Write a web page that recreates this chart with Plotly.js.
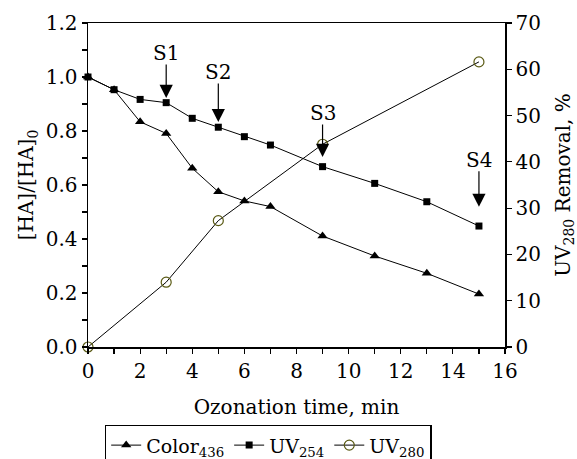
<!DOCTYPE html>
<html>
<head>
<meta charset="utf-8">
<script src="https://cdn.plot.ly/plotly-3.0.1.min.js"></script>
<style>html,body{margin:0;padding:0;background:#fff;}#chart{width:577px;height:459px;}</style>
</head>
<body>
<div id="chart"></div>
<script>
const timeColor = [0, 1, 2, 3, 4, 5, 6, 7, 9, 11, 13, 15];
const color436 = [1.0, 0.953, 0.834, 0.791, 0.662, 0.575, 0.541, 0.52, 0.411, 0.337, 0.273, 0.196];
const timeUV254 = [0, 1, 2, 3, 4, 5, 6, 7, 9, 11, 13, 15];
const uv254 = [1.0, 0.953, 0.917, 0.905, 0.847, 0.814, 0.779, 0.748, 0.668, 0.606, 0.538, 0.448];
const timeUV280 = [0, 3, 5, 9, 15];
const uv280 = [0, 14.0, 27.3, 43.8, 61.6];
const stageLabels = ['S1', 'S2', 'S3', 'S4'];
const stageX = [3, 5, 9, 15];
const stageTipY = [0.922, 0.833, 0.704, 0.519];
const stageTailPx = [-35, -40, -34, -37];
const stageTextY = [1.089, 1.019, 0.867, 0.693];

const FONT = 'DejaVu Serif';
const FS = 20;
const traces = [
  {x: timeColor, y: color436, name: 'Color<sub>436</sub>', mode: 'lines+markers', cliponaxis: false,
   line: {color: '#000', width: 1}, marker: {symbol: 'triangle-up', size: 9, color: '#000'}},
  {x: timeUV254, y: uv254, name: 'UV<sub>254</sub>', mode: 'lines+markers', cliponaxis: false,
   line: {color: '#000', width: 1}, marker: {symbol: 'square', size: 7, color: '#000'}},
  {x: timeUV280, y: uv280, name: 'UV<sub>280</sub>', mode: 'lines+markers', yaxis: 'y2', cliponaxis: false,
   line: {color: '#000', width: 1}, marker: {symbol: 'circle-open', size: 10, color: '#5a5a14', line: {width: 1.2}}}
];

const annotations = [];
stageLabels.forEach((s, i) => {
  annotations.push({x: stageX[i], y: stageTipY[i], xref: 'x', yref: 'y', text: '', showarrow: true,
    ax: 0, ay: stageTailPx[i], arrowhead: 2, arrowsize: 2.2, arrowwidth: 1.2, arrowcolor: '#000', standoff: 0});
  annotations.push({x: stageX[i], y: stageTextY[i], xref: 'x', yref: 'y', text: s, showarrow: false,
    font: {family: FONT, size: FS, color: '#000'}});
});

const layout = {
  width: 577, height: 459,
  margin: {l: 88, r: 72, t: 23, b: 112, autoexpand: false},
  paper_bgcolor: '#fff', plot_bgcolor: '#fff',
  font: {family: FONT, size: FS, color: '#000'},
  showlegend: true,
  legend: {orientation: 'h', x: 0.04, xanchor: 'left', y: -0.24, yanchor: 'top',
    bordercolor: '#000', borderwidth: 1.5, font: {family: FONT, size: 19}, bgcolor: '#fff',
    tracegroupgap: 0, itemwidth: 30},
  xaxis: {range: [0, 16], dtick: 2, tick0: 0, showgrid: false, zeroline: false,
    showline: true, linecolor: '#000', linewidth: 1.5, mirror: true,
    ticks: 'outside', ticklen: 5, tickwidth: 1.2, tickcolor: '#000',
    minor: {dtick: 1, ticks: 'outside', ticklen: 5, tickwidth: 1.2, tickcolor: '#000', showgrid: false},
    title: {text: 'Ozonation time, min', font: {family: FONT, size: FS}, standoff: 18}},
  yaxis: {range: [0, 1.2], dtick: 0.2, tick0: 0, tickformat: '.1f', showgrid: false, zeroline: false,
    showline: true, linecolor: '#000', linewidth: 1.5,
    ticks: 'outside', ticklen: 5, tickwidth: 1.2, tickcolor: '#000',
    minor: {dtick: 0.1, ticks: 'outside', ticklen: 5, tickwidth: 1.2, tickcolor: '#000', showgrid: false},
    title: {text: '[HA]/[HA]<sub>0</sub>', font: {family: FONT, size: FS}, standoff: 6}},
  yaxis2: {range: [0, 70], dtick: 10, tick0: 0, overlaying: 'y', side: 'right', showgrid: false, zeroline: false,
    showline: true, linecolor: '#000', linewidth: 1.5,
    ticks: 'outside', ticklen: 5, tickwidth: 1.2, tickcolor: '#000',
    title: {text: 'UV<sub>280</sub> Removal, %', font: {family: FONT, size: FS}, standoff: 20}},
  annotations: annotations
};

Plotly.newPlot('chart', traces, layout, {displayModeBar: false, staticPlot: true});
</script>
</body>
</html>
